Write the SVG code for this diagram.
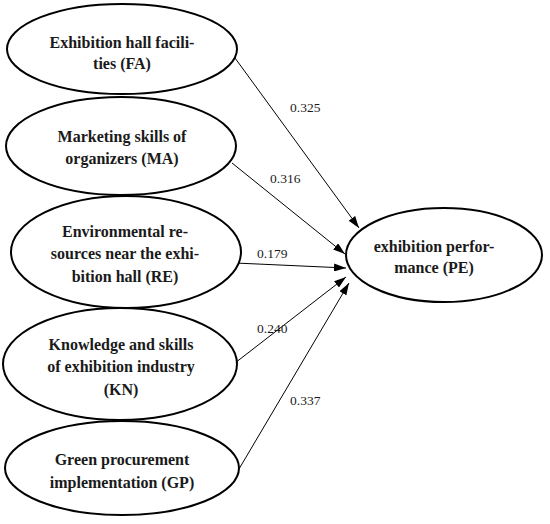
<svg xmlns="http://www.w3.org/2000/svg" width="550" height="524" viewBox="0 0 550 524">
<defs>
<style>
.node ellipse{fill:#fff;stroke:#000;stroke-width:2}
.node text{font-family:"Liberation Serif","Times New Roman",serif;font-weight:bold;font-size:16px;text-anchor:middle;fill:#1a1a1a}
.edge line{stroke:#000;stroke-width:1;marker-end:url(#arr)}
.lbl{font-family:"Liberation Serif","Times New Roman",serif;font-size:13.5px;fill:#1a1a1a}
</style>
<marker id="arr" viewBox="0 0 12 8" refX="12" refY="4" markerWidth="12" markerHeight="8" markerUnits="userSpaceOnUse" orient="auto">
<path d="M0,0 L12,4 L0,8 Z" fill="#000"/>
</marker>
</defs>
<rect width="550" height="524" fill="#fff"/>
<g id="connectors" class="edge">
<line x1="235" y1="58" x2="359" y2="228"/>
<line x1="232" y1="163" x2="345" y2="254"/>
<line x1="235" y1="263" x2="346" y2="268"/>
<line x1="235" y1="363" x2="346" y2="277"/>
<line x1="239" y1="469" x2="349" y2="283"/>
</g>
<g id="labels">
<text class="lbl" x="290" y="112">0.325</text>
<text class="lbl" x="270" y="183">0.316</text>
<text class="lbl" x="257" y="258">0.179</text>
<text class="lbl" x="257" y="333">0.240</text>
<text class="lbl" x="290" y="405">0.337</text>
</g>
<g id="FA" class="node">
<ellipse cx="122" cy="49" rx="115" ry="45"/>
<text x="122" y="48">Exhibition hall facili-</text>
<text x="122" y="69">ties (FA)</text>
</g>
<g id="MA" class="node">
<ellipse cx="121" cy="146" rx="115" ry="49"/>
<text x="122" y="142">Marketing skills of</text>
<text x="122" y="164">organizers (MA)</text>
</g>
<g id="RE" class="node">
<ellipse cx="126" cy="252" rx="115" ry="56"/>
<text x="125" y="237">Environmental re-</text>
<text x="125" y="259">sources near the exhi-</text>
<text x="125" y="282">bition hall (RE)</text>
</g>
<g id="KN" class="node">
<ellipse cx="120" cy="364" rx="117" ry="56"/>
<text x="121" y="350">Knowledge and skills</text>
<text x="121" y="372">of exhibition industry</text>
<text x="121" y="395">(KN)</text>
</g>
<g id="GP" class="node">
<ellipse cx="122" cy="468" rx="117" ry="47"/>
<text x="122" y="465">Green procurement</text>
<text x="122" y="488">implementation (GP)</text>
</g>
<g id="PE" class="node">
<ellipse cx="444" cy="255" rx="98" ry="47"/>
<text x="434" y="252">exhibition perfor-</text>
<text x="434" y="273">mance (PE)</text>
</g>
</svg>
